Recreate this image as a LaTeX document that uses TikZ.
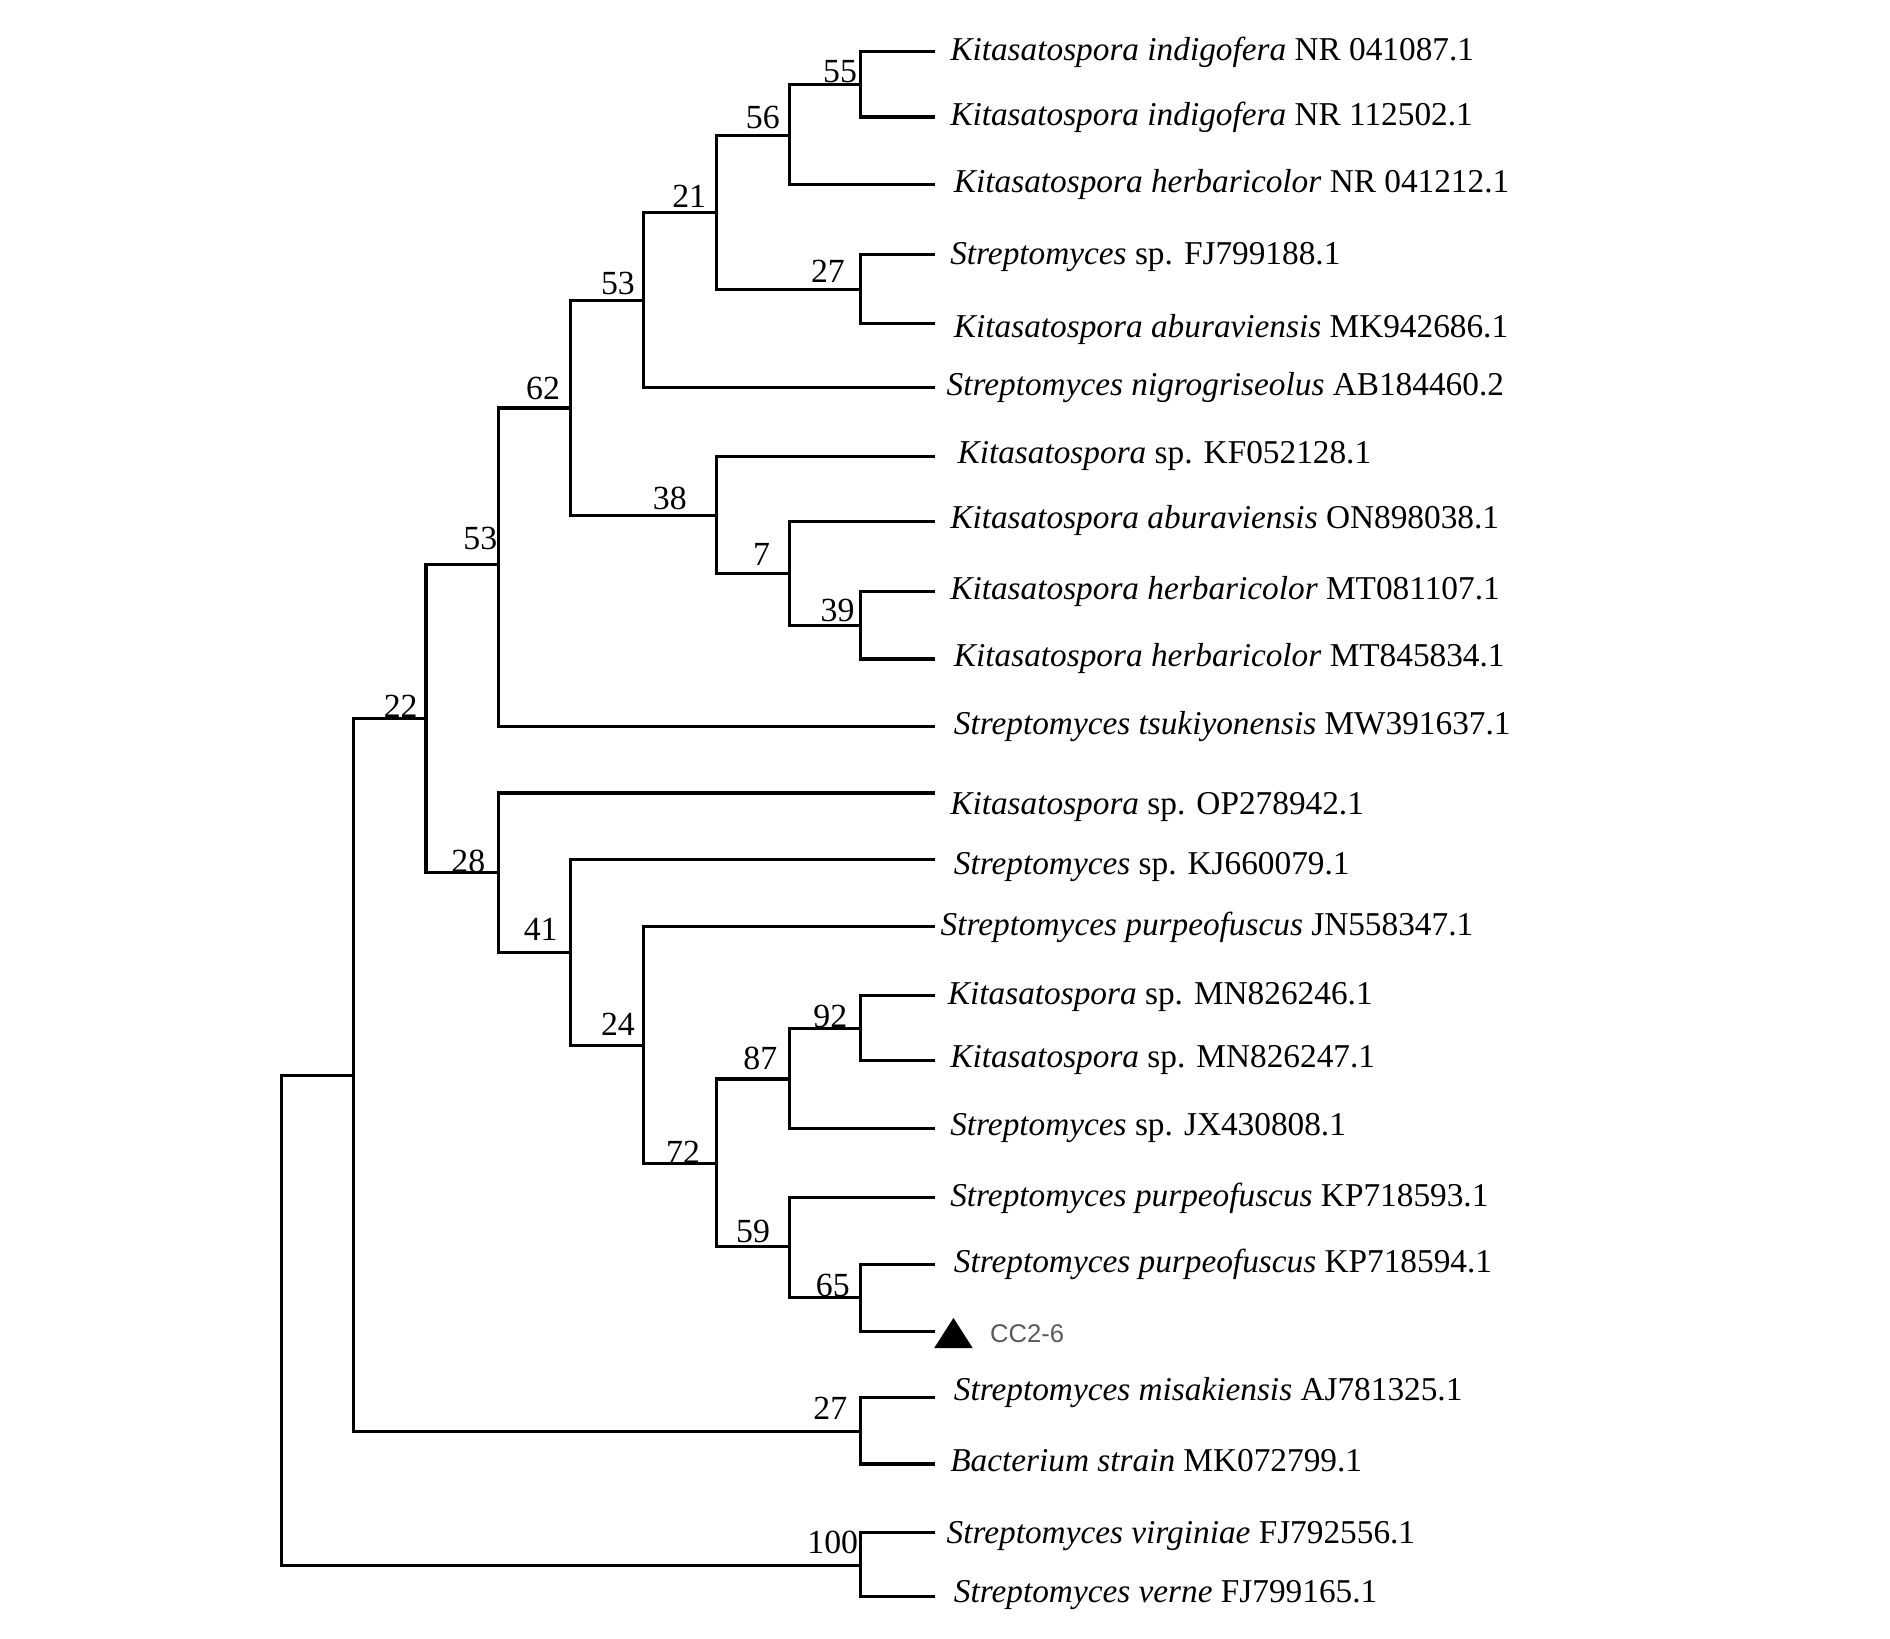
\documentclass[tikz,border=0pt]{standalone}
\usepackage{fontspec}
\setmainfont{Liberation Serif}
\newfontfamily\labsans{Liberation Sans}
\begin{document}
\begin{tikzpicture}[x=0.5pt,y=-0.5pt,
  br/.style={line width=1.3pt,line cap=rect},
  leaf/.style={anchor=west,inner sep=0pt,font=\fontsize{13.8}{16}\selectfont},
  boot/.style={inner sep=0pt,font=\fontsize{14}{16}\selectfont},
  tag/.style={anchor=west,inner sep=0pt,text=black!65,font=\labsans\fontsize{10.6}{12}\selectfont}]
\useasboundingbox (0,0) rectangle (1566,1358);
% leaf tips
\coordinate (L1) at (773,43);
\coordinate (L2) at (773,97);
\coordinate (L3) at (773,153);
\coordinate (L4) at (773,211);
\coordinate (L5) at (773,268);
\coordinate (L6) at (773,321);
\coordinate (L7) at (773,378);
\coordinate (L8) at (773,432);
\coordinate (L9) at (773,490);
\coordinate (L10) at (773,546);
\coordinate (L11) at (773,602);
\coordinate (L12) at (773,657);
\coordinate (L13) at (773,712);
\coordinate (L14) at (773,768);
\coordinate (L15) at (773,825);
\coordinate (L16) at (773,879);
\coordinate (L17) at (773,935);
\coordinate (L18) at (773,992);
\coordinate (L19) at (773,1048);
\coordinate (L20) at (773,1103);
\coordinate (L21) at (773,1158);
\coordinate (L22) at (773,1213);
\coordinate (L23) at (773,1270);
\coordinate (L24) at (773,1323);
% internal nodes
\coordinate (n55) at (713,70);
\coordinate (n56) at (654,112);
\coordinate (n27a) at (713,240);
\coordinate (n21) at (594,176);
\coordinate (n53a) at (533,249);
\coordinate (n39) at (713,518);
\coordinate (n7) at (654,475);
\coordinate (n38) at (594,427);
\coordinate (n62) at (473,338);
\coordinate (n53b) at (413,468);
\coordinate (n92) at (713,852);
\coordinate (n87) at (654,894);
\coordinate (n65) at (713,1075);
\coordinate (n59) at (654,1033);
\coordinate (n72) at (594,964);
\coordinate (n24) at (533,866);
\coordinate (n41) at (473,789);
\coordinate (n28) at (413,723);
\coordinate (n22) at (353,595);
\coordinate (n27b) at (713,1186);
\coordinate (nA) at (293,891);
\coordinate (n100) at (713,1297);
\coordinate (root) at (233,1094);
% branches
\draw[br] (n55) |- (L1) (n55) |- (L2);
\draw[br] (n56) |- (n55) (n56) |- (L3);
\draw[br] (n27a) |- (L4) (n27a) |- (L5);
\draw[br] (n21) |- (n56) (n21) |- (n27a);
\draw[br] (n53a) |- (n21) (n53a) |- (L6);
\draw[br] (n39) |- (L9) (n39) |- (L10);
\draw[br] (n7) |- (L8) (n7) |- (n39);
\draw[br] (n38) |- (L7) (n38) |- (n7);
\draw[br] (n62) |- (n53a) (n62) |- (n38);
\draw[br] (n53b) |- (n62) (n53b) |- (L11);
\draw[br] (n92) |- (L15) (n92) |- (L16);
\draw[br] (n87) |- (n92) (n87) |- (L17);
\draw[br] (n65) |- (L19) (n65) |- (L20);
\draw[br] (n59) |- (L18) (n59) |- (n65);
\draw[br] (n72) |- (n87) (n72) |- (n59);
\draw[br] (n24) |- (L14) (n24) |- (n72);
\draw[br] (n41) |- (L13) (n41) |- (n24);
\draw[br] (n28) |- (L12) (n28) |- (n41);
\draw[br] (n22) |- (n53b) (n22) |- (n28);
\draw[br] (n27b) |- (L21) (n27b) |- (L22);
\draw[br] (nA) |- (n22) (nA) |- (n27b);
\draw[br] (n100) |- (L23) (n100) |- (L24);
\draw[br] (root) |- (nA) (root) |- (n100);
% bootstrap values
\node[boot] (b55) at (696,59) {55};
\node[boot] (b56) at (632,97) {56};
\node[boot] (b21) at (571,163) {21};
\node[boot] (b27a) at (686,225) {27};
\node[boot] (b53a) at (512,235) {53};
\node[boot] (b62) at (450,322) {62};
\node[boot] (b38) at (555,413) {38};
\node[boot] (b7) at (631,459) {7};
\node[boot] (b39) at (694,506) {39};
\node[boot] (b53b) at (398,446) {53};
\node[boot] (b22) at (332,585) {22};
\node[boot] (b28) at (388,714) {28};
\node[boot] (b41) at (448,770) {41};
\node[boot] (b24) at (512,849) {24};
\node[boot] (b72) at (566,955) {72};
\node[boot] (b87) at (630,877) {87};
\node[boot] (b92) at (688,842) {92};
\node[boot] (b59) at (624,1020) {59};
\node[boot] (b65) at (690,1065) {65};
\node[boot] (b27b) at (688,1167) {27};
\node[boot] (b100) at (690,1278) {100};
% leaf labels
\node[leaf] (t1) at (787,43) {\textit{Kitasatospora indigofera} NR 041087.1};
\node[leaf] (t2) at (787,97) {\textit{Kitasatospora indigofera} NR 112502.1};
\node[leaf] (t3) at (790,153) {\textit{Kitasatospora herbaricolor} NR 041212.1};
\node[leaf] (t4) at (787,213) {\textit{Streptomyces} sp. FJ799188.1};
\node[leaf] (t5) at (790,273) {\textit{Kitasatospora aburaviensis} MK942686.1};
\node[leaf] (t6) at (784,321) {\textit{Streptomyces nigrogriseolus} AB184460.2};
\node[leaf] (t7) at (793,378) {\textit{Kitasatospora} sp. KF052128.1};
\node[leaf] (t8) at (787,431) {\textit{Kitasatospora aburaviensis} ON898038.1};
\node[leaf] (t9) at (787,490) {\textit{Kitasatospora herbaricolor} MT081107.1};
\node[leaf] (t10) at (790,546) {\textit{Kitasatospora herbaricolor} MT845834.1};
\node[leaf] (t11) at (790,602) {\textit{Streptomyces tsukiyonensis} MW391637.1};
\node[leaf] (t12) at (787,669) {\textit{Kitasatospora} sp. OP278942.1};
\node[leaf] (t13) at (790,718) {\textit{Streptomyces} sp. KJ660079.1};
\node[leaf] (t14) at (779,768) {\textit{Streptomyces purpeofuscus} JN558347.1};
\node[leaf] (t15) at (785,826) {\textit{Kitasatospora} sp. MN826246.1};
\node[leaf] (t16) at (787,878) {\textit{Kitasatospora} sp. MN826247.1};
\node[leaf] (t17) at (787,935) {\textit{Streptomyces} sp. JX430808.1};
\node[leaf] (t18) at (787,993) {\textit{Streptomyces purpeofuscus} KP718593.1};
\node[leaf] (t19) at (790,1048) {\textit{Streptomyces purpeofuscus} KP718594.1};
\node[leaf] (t21) at (790,1154) {\textit{Streptomyces misakiensis} AJ781325.1};
\node[leaf] (t22) at (787,1210) {\textit{Bacterium strain} MK072799.1};
\node[leaf] (t23) at (784,1273) {\textit{Streptomyces virginiae} FJ792556.1};
\node[leaf] (t24) at (790,1322) {\textit{Streptomyces verne} FJ799165.1};
% query strain
\coordinate (tri) at (790,1105);
\fill ([shift={(-16,12)}]tri) -- ([shift={(16,12)}]tri) -- ([shift={(0,-13)}]tri) -- cycle;
\node[tag] (t20) at (820,1105) {CC2-6};
\end{tikzpicture}
\end{document}
